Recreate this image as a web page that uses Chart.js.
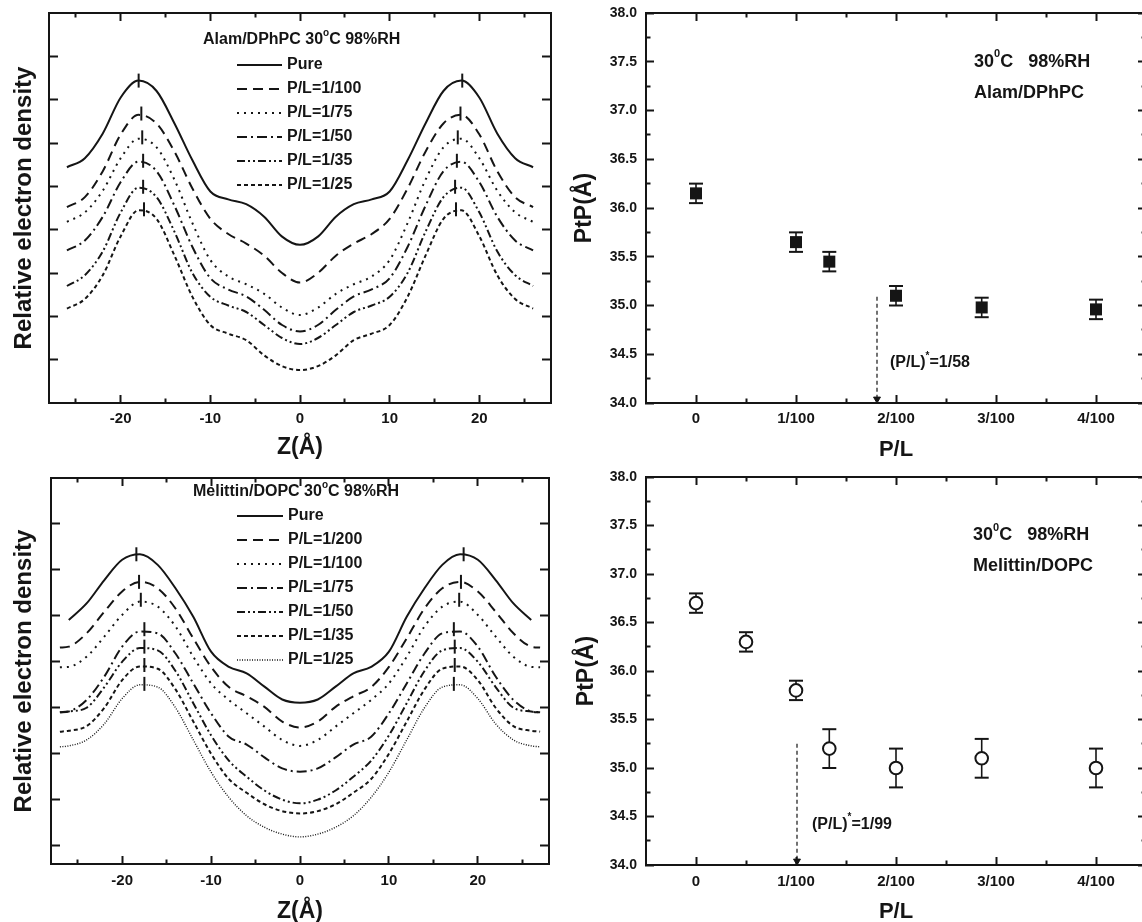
<!DOCTYPE html>
<html>
<head>
<meta charset="utf-8">
<script src="https://cdn.jsdelivr.net/npm/chart.js@4.4.1/dist/chart.umd.min.js"></script>
<style>
  html, body { margin: 0; padding: 0; background: #fff; overflow: hidden; width: 1142px; height: 922px; }
  canvas { position: absolute; }
</style>
</head>
<body>
<canvas id="alamDensity" width="560" height="470" style="left:0;top:0"></canvas>
<canvas id="alamPtp" width="600" height="470" style="left:560px;top:0"></canvas>
<canvas id="melDensity" width="560" height="470" style="left:0;top:460px"></canvas>
<canvas id="melPtp" width="600" height="470" style="left:560px;top:460px"></canvas>
<script>
const FONT = "'Liberation Sans', Arial, Helvetica, sans-serif";
const INK = '#151515';

// ---- top left: Alam/DPhPC electron density profiles ----
const zAlam = [-26, -24, -22, -20, -18, -16, -14, -12, -10, -8, -6, -4, -2, 0, 2, 4, 6, 8, 10, 12, 14, 16, 18, 20, 22, 24, 26];
const alamLabels = ['Pure', 'P/L=1/100', 'P/L=1/75', 'P/L=1/50', 'P/L=1/35', 'P/L=1/25'];
const alamPure = [5.44, 5.65, 6.22, 7.05, 7.44, 7.2, 6.45, 5.6, 4.88, 4.7, 4.59, 4.3, 3.84, 3.65, 3.84, 4.3, 4.59, 4.7, 4.88, 5.6, 6.45, 7.2, 7.44, 7.05, 6.22, 5.65, 5.44];
const alam100 = [4.52, 4.75, 5.35, 6.2, 6.65, 6.45, 5.8, 4.95, 4.25, 3.9, 3.68, 3.4, 3.0, 2.78, 3.0, 3.4, 3.68, 3.9, 4.25, 4.95, 5.8, 6.45, 6.65, 6.2, 5.35, 4.75, 4.52];
const alam75 = [4.18, 4.4, 4.9, 5.65, 6.1, 5.9, 5.15, 4.15, 3.3, 2.92, 2.74, 2.52, 2.2, 2.03, 2.2, 2.52, 2.74, 2.92, 3.3, 4.15, 5.15, 5.9, 6.1, 5.65, 4.9, 4.4, 4.18];
const alam50 = [3.52, 3.75, 4.3, 5.1, 5.57, 5.35, 4.55, 3.6, 2.88, 2.62, 2.46, 2.15, 1.8, 1.65, 1.8, 2.15, 2.46, 2.62, 2.88, 3.6, 4.55, 5.35, 5.57, 5.1, 4.3, 3.75, 3.52];
const alam35 = [2.7, 2.95, 3.5, 4.4, 4.97, 4.75, 3.95, 3.0, 2.45, 2.25, 2.1, 1.8, 1.5, 1.36, 1.5, 1.8, 2.1, 2.25, 2.45, 3.0, 3.95, 4.75, 4.97, 4.4, 3.5, 2.95, 2.7];
const alam25 = [2.18, 2.4, 2.95, 3.85, 4.45, 4.25, 3.4, 2.45, 1.8, 1.6, 1.45, 1.1, 0.85, 0.76, 0.85, 1.1, 1.45, 1.6, 1.8, 2.45, 3.4, 4.25, 4.45, 3.85, 2.95, 2.4, 2.18];
const alamPeakZ = [-18, -17.7, -17.6, -17.5, -17.5, -17.4, 18.1, 17.9, 17.6, 17.5, 17.3, 17.4];
const alamPeakY = [7.44, 6.68, 6.13, 5.59, 4.99, 4.47, 7.44, 6.68, 6.13, 5.59, 4.99, 4.47];

// ---- bottom left: Melittin/DOPC electron density profiles ----
const zMel = [-27, -26, -24, -22, -20, -18, -16, -14, -12, -10, -8, -6, -4, -2, 0, 2, 4, 6, 8, 10, 12, 14, 16, 18, 20, 22, 24, 26, 27];
const melLabels = ['Pure', 'P/L=1/200', 'P/L=1/100', 'P/L=1/75', 'P/L=1/50', 'P/L=1/35', 'P/L=1/25'];
const melPure = [null, 4.91, 5.27, 5.78, 6.22, 6.34, 6.11, 5.6, 4.98, 4.22, 3.89, 3.75, 3.46, 3.18, 3.11, 3.18, 3.46, 3.75, 3.89, 4.22, 4.98, 5.6, 6.11, 6.34, 6.22, 5.78, 5.27, 4.91, null];
const mel200 = [4.31, 4.33, 4.62, 5.09, 5.53, 5.74, 5.6, 5.16, 4.51, 3.89, 3.45, 3.25, 3.02, 2.7, 2.57, 2.7, 3.02, 3.25, 3.45, 3.89, 4.51, 5.16, 5.6, 5.74, 5.53, 5.09, 4.62, 4.33, 4.31];
const mel100 = [3.88, 3.89, 4.11, 4.55, 5.02, 5.31, 5.2, 4.77, 4.11, 3.53, 3.17, 2.88, 2.59, 2.3, 2.17, 2.3, 2.59, 2.88, 3.17, 3.53, 4.11, 4.77, 5.2, 5.31, 5.02, 4.55, 4.11, 3.89, 3.88];
const mel75 = [2.9, 2.92, 3.17, 3.68, 4.33, 4.66, 4.62, 4.18, 3.53, 2.88, 2.37, 2.2, 1.92, 1.68, 1.61, 1.68, 1.92, 2.2, 2.37, 2.88, 3.53, 4.18, 4.62, 4.66, 4.33, 3.68, 3.17, 2.92, 2.9];
const mel50 = [2.9, 2.92, 3.0, 3.45, 4.0, 4.3, 4.25, 3.8, 3.1, 2.4, 1.85, 1.5, 1.2, 1.0, 0.92, 1.0, 1.2, 1.5, 1.85, 2.4, 3.1, 3.8, 4.25, 4.3, 4.0, 3.45, 3.0, 2.92, 2.9];
const mel35 = [2.48, 2.5, 2.6, 3.0, 3.6, 3.9, 3.85, 3.4, 2.7, 2.0, 1.45, 1.15, 0.9, 0.75, 0.7, 0.75, 0.9, 1.15, 1.45, 2.0, 2.7, 3.4, 3.85, 3.9, 3.6, 3.0, 2.6, 2.5, 2.48];
const mel25 = [2.15, 2.17, 2.3, 2.65, 3.2, 3.5, 3.45, 3.0, 2.3, 1.6, 1.05, 0.65, 0.4, 0.25, 0.19, 0.25, 0.4, 0.65, 1.05, 1.6, 2.3, 3.0, 3.45, 3.5, 3.2, 2.65, 2.3, 2.17, 2.15];
const melPeakZ = [-18.4, -18.1, -17.9, -17.5, -17.5, -17.5, -17.5, 18.4, 18.1, 17.9, 17.3, 17.4, 17.4, 17.3];
const melPeakY = [6.34, 5.74, 5.35, 4.71, 4.33, 3.93, 3.52, 6.34, 5.74, 5.35, 4.71, 4.33, 3.93, 3.52];

// ---- right panels: peak-to-peak distance vs P/L (P/L in units of 1/100) ----
const plTicks = [0, 1, 2, 3, 4];
const plTickLabels = ['0', '1/100', '2/100', '3/100', '4/100'];
const plMinor = [0.5, 1.5, 2.5, 3.5];
const ptpTicks = [34, 34.5, 35, 35.5, 36, 36.5, 37, 37.5, 38];
const ptpMinor = [34.25, 34.75, 35.25, 35.75, 36.25, 36.75, 37.25, 37.75];

const alamPL = [0, 1, 1.333, 2, 2.857, 4];
const alamPtP = [36.15, 35.65, 35.45, 35.1, 34.98, 34.96];
const alamErr = [0.1, 0.1, 0.1, 0.1, 0.1, 0.1];
const alamArrowX = 1.81;
const alamArrowY = [35.09, 34.04];

const melPL = [0, 0.5, 1, 1.333, 2, 2.857, 4];
const melPtP = [36.7, 36.3, 35.8, 35.2, 35.0, 35.1, 35.0];
const melErr = [0.1, 0.1, 0.1, 0.2, 0.2, 0.2, 0.2];
const melArrowX = 1.01;
const melArrowY = [35.25, 34.04];

const densityZTicks = [-20, -10, 0, 10, 20];
const densityZMinor = [-25, -15, -5, 5, 15, 25];

// ---- helpers ----
function drawRich(ctx, x, y, parts, size) {
  ctx.textBaseline = 'middle';
  ctx.textAlign = 'left';
  let cx = x;
  parts.forEach(p => {
    const s = p.sup ? Math.round(size * 0.6) : size;
    ctx.font = 'bold ' + s + 'px ' + FONT;
    ctx.fillText(p.t, cx, p.sup ? y - size * 0.42 : y);
    cx += ctx.measureText(p.t).width;
  });
}

function keyPlugin(k) {
  return {
    id: 'key',
    afterDatasetsDraw(chart) {
      const ctx = chart.ctx;
      ctx.save();
      ctx.fillStyle = INK;
      drawRich(ctx, k.titleX, k.titleY, k.title, 16);
      chart.data.datasets.filter(d => d.inKey).forEach((d, i) => {
        const y = k.rowY + i * k.rowGap;
        ctx.beginPath();
        ctx.strokeStyle = INK;
        ctx.lineWidth = d.borderWidth;
        ctx.setLineDash(d.borderDash);
        ctx.moveTo(k.lineX[0], y);
        ctx.lineTo(k.lineX[1], y);
        ctx.stroke();
        ctx.setLineDash([]);
        drawRich(ctx, k.textX, y, [{ t: d.label }], 16);
      });
      ctx.restore();
    }
  };
}

function notePlugin(items) {
  return {
    id: 'notes',
    afterDatasetsDraw(chart) {
      const ctx = chart.ctx;
      const sx = chart.scales.x, sy = chart.scales.y;
      ctx.save();
      ctx.fillStyle = INK;
      items.forEach(n => drawRich(ctx, sx.getPixelForValue(n.x), sy.getPixelForValue(n.y), n.parts, n.size));
      ctx.restore();
    }
  };
}

function curveSets(z, series, labels, dashes, widths) {
  return series.map((ys, i) => ({
    label: labels[i],
    inKey: true,
    data: z.map((v, j) => ({ x: v, y: ys[j] })),
    showLine: true,
    pointRadius: 0,
    borderColor: INK,
    borderWidth: widths[i],
    borderDash: dashes[i],
    cubicInterpolationMode: 'monotone'
  }));
}

function peakSet(zs, ys) {
  return {
    data: zs.map((v, i) => ({ x: v, y: ys[i] })),
    showLine: false,
    pointStyle: 'line',
    pointRotation: 90,
    pointRadius: 7,
    pointBorderColor: INK,
    pointBorderWidth: 2
  };
}

function errorSets(xs, ys, es, cap) {
  return xs.map((x, i) => ({
    data: [{ x: x, y: ys[i] - es[i] }, { x: x, y: ys[i] + es[i] }],
    showLine: true,
    borderColor: INK,
    borderWidth: 1.6,
    pointStyle: 'line',
    pointRadius: cap,
    pointBorderColor: INK,
    pointBorderWidth: 2
  }));
}

function arrowSet(x, ys) {
  return {
    data: ys.map(y => ({ x: x, y: y })),
    showLine: true,
    borderColor: INK,
    borderWidth: 1.2,
    borderDash: [4, 3],
    pointRadius: [0, 4],
    pointStyle: 'triangle',
    pointRotation: 180,
    pointBackgroundColor: INK,
    pointBorderColor: INK,
    pointBorderWidth: 1
  };
}

// fixed axis size, and no extra room for labels sticking out past the ends
function fixSize(size) {
  return a => {
    if (a.isHorizontal()) a.height = size; else a.width = size;
    a.paddingTop = a.paddingBottom = a.paddingLeft = a.paddingRight = 0;
  };
}

function frameScales(c) {
  const mk = (pos, range, values, len, border) => ({
    type: 'linear',
    position: pos,
    min: range[0],
    max: range[1],
    afterBuildTicks: a => { a.ticks = values.map(v => ({ value: v })); },
    afterFit: fixSize(0),
    border: { display: border, color: INK, width: 2 },
    grid: { drawOnChartArea: false, tickLength: -len, tickWidth: 2, tickColor: INK },
    ticks: { display: false, autoSkip: false }
  });
  const s = {};
  if (c.xMinor) {
    s.xm = mk('bottom', c.x, c.xMinor, 4.5, false);
    s.x2m = mk('top', c.x, c.xMinor, 4.5, false);
  }
  if (c.yMinor) {
    s.ym = mk('left', c.y, c.yMinor, 4.5, false);
    s.y2m = mk('right', c.y, c.yMinor, 4.5, false);
  }
  s.x2 = mk('top', c.x, c.xMajor, 8, true);
  s.y2 = mk('right', c.y, c.yMajor, c.yLen, true);
  s.x = Object.assign(mk('bottom', c.x, c.xMajor, 8, true), {
    afterFit: fixSize(c.xSize),
    ticks: {
      display: true, autoSkip: false, maxRotation: 0, padding: c.xPad, color: INK,
      font: { family: FONT, size: 15, weight: 'bold' },
      callback: c.xFmt
    },
    title: {
      display: true, text: c.xTitle, color: INK, padding: 0,
      font: { family: FONT, size: c.xTitleSize, weight: 'bold' }
    }
  });
  s.y = Object.assign(mk('left', c.y, c.yMajor, c.yLen, true), {
    afterFit: fixSize(c.ySize),
    ticks: {
      display: !!c.yFmt, autoSkip: false, padding: c.yPad, color: INK,
      font: { family: FONT, size: 14, weight: 'bold' },
      callback: c.yFmt || (() => '')
    },
    title: {
      display: true, text: c.yTitle, color: INK, padding: 0,
      font: { family: FONT, size: c.yTitleSize, weight: 'bold' }
    }
  });
  return s;
}

function baseOptions(padding, scales) {
  return {
    responsive: false,
    animation: false,
    events: [],
    layout: { padding: padding },
    plugins: { legend: { display: false }, tooltip: { enabled: false } },
    scales: scales
  };
}

const zFmt = v => String(v);
const plFmt = v => plTickLabels[plTicks.indexOf(v)];
const ptpFmt = v => v.toFixed(1);

// ---- top left ----
new Chart(document.getElementById('alamDensity'), {
  type: 'scatter',
  data: {
    datasets: [
      peakSet(alamPeakZ, alamPeakY),
      ...curveSets(zAlam, [alamPure, alam100, alam75, alam50, alam35, alam25], alamLabels,
        [[], [10, 6], [2, 5], [10, 4, 2, 4], [8, 3, 2, 3, 2, 3], [4, 3]],
        [2, 2, 2, 2, 2, 2])
    ]
  },
  options: baseOptions({ left: 10, right: 9, top: 13, bottom: 9 }, frameScales({
    x: [-28, 28], y: [0, 9],
    xMajor: densityZTicks, xMinor: densityZMinor,
    yMajor: [1, 2, 3, 4, 5, 6, 7, 8], yLen: 9,
    xSize: 58, xPad: 15, xFmt: zFmt, xTitle: 'Z(Å)', xTitleSize: 23,
    ySize: 39, yTitle: 'Relative electron density', yTitleSize: 24
  })),
  plugins: [keyPlugin({
    titleX: 203, titleY: 40,
    title: [{ t: 'Alam/DPhPC 30' }, { t: 'o', sup: true }, { t: 'C 98%RH' }],
    lineX: [237, 282], textX: 287, rowY: 65, rowGap: 24
  })]
});

// ---- bottom left ----
new Chart(document.getElementById('melDensity'), {
  type: 'scatter',
  data: {
    datasets: [
      peakSet(melPeakZ, melPeakY),
      ...curveSets(zMel, [melPure, mel200, mel100, mel75, mel50, mel35, mel25], melLabels,
        [[], [10, 6], [2, 5], [10, 4, 2, 4], [8, 3, 2, 3, 2, 3], [4, 3], [1, 1.5]],
        [2, 2, 2, 2, 2, 2, 1.4])
    ]
  },
  options: baseOptions({ left: 10, right: 11, top: 18, bottom: 5 }, frameScales({
    x: [-28, 28], y: [-0.4, 8],
    xMajor: densityZTicks, xMinor: densityZMinor,
    yMajor: [0, 1, 2, 3, 4, 5, 6, 7], yLen: 9,
    xSize: 61, xPad: 15.7, xFmt: zFmt, xTitle: 'Z(Å)', xTitleSize: 23,
    ySize: 41, yTitle: 'Relative electron density', yTitleSize: 24
  })),
  plugins: [keyPlugin({
    titleX: 193, titleY: 32,
    title: [{ t: 'Melittin/DOPC 30' }, { t: 'o', sup: true }, { t: 'C 98%RH' }],
    lineX: [237, 283], textX: 288, rowY: 56, rowGap: 24
  })]
});

// ---- top right ----
new Chart(document.getElementById('alamPtp'), {
  type: 'scatter',
  data: {
    datasets: [
      {
        data: alamPL.map((x, i) => ({ x: x, y: alamPtP[i] })),
        pointStyle: 'rect', pointRadius: 8.5,
        pointBackgroundColor: INK, pointBorderColor: INK, pointBorderWidth: 0
      },
      ...errorSets(alamPL, alamPtP, alamErr, 7),
      arrowSet(alamArrowX, alamArrowY)
    ]
  },
  options: baseOptions({ left: 11, right: 14, top: 13, bottom: 7 }, frameScales({
    x: [-0.5, 4.5], y: [34, 38],
    xMajor: plTicks, xMinor: plMinor, yMajor: ptpTicks, yMinor: ptpMinor, yLen: 8,
    xSize: 60, xPad: 14.5, xFmt: plFmt, xTitle: 'P/L', xTitleSize: 22,
    ySize: 75, yPad: 17, yFmt: ptpFmt, yTitle: 'PtP(Å)', yTitleSize: 23
  })),
  plugins: [notePlugin([
    { x: 2.78, y: 37.5, size: 18, parts: [{ t: '30' }, { t: '0', sup: true }, { t: 'C   98%RH' }] },
    { x: 2.78, y: 37.18, size: 18, parts: [{ t: 'Alam/DPhPC' }] },
    { x: 1.94, y: 34.41, size: 16, parts: [{ t: '(P/L)' }, { t: '*', sup: true }, { t: '=1/58' }] }
  ])]
});

// ---- bottom right ----
new Chart(document.getElementById('melPtp'), {
  type: 'scatter',
  data: {
    datasets: [
      {
        data: melPL.map((x, i) => ({ x: x, y: melPtP[i] })),
        pointStyle: 'circle', pointRadius: 6.3,
        pointBackgroundColor: '#fff', pointBorderColor: INK, pointBorderWidth: 2
      },
      ...errorSets(melPL, melPtP, melErr, 7),
      arrowSet(melArrowX, melArrowY)
    ]
  },
  options: baseOptions({ left: 13, right: 14, top: 17, bottom: 5 }, frameScales({
    x: [-0.5, 4.5], y: [34, 38],
    xMajor: plTicks, xMinor: plMinor, yMajor: ptpTicks, yMinor: ptpMinor, yLen: 8,
    xSize: 60, xPad: 16, xFmt: plFmt, xTitle: 'P/L', xTitleSize: 22,
    ySize: 73, yPad: 17, yFmt: ptpFmt, yTitle: 'PtP(Å)', yTitleSize: 23
  })),
  plugins: [notePlugin([
    { x: 2.77, y: 37.4, size: 18, parts: [{ t: '30' }, { t: '0', sup: true }, { t: 'C   98%RH' }] },
    { x: 2.77, y: 37.08, size: 18, parts: [{ t: 'Melittin/DOPC' }] },
    { x: 1.16, y: 34.42, size: 16, parts: [{ t: '(P/L)' }, { t: '*', sup: true }, { t: '=1/99' }] }
  ])]
});
</script>
</body>
</html>
